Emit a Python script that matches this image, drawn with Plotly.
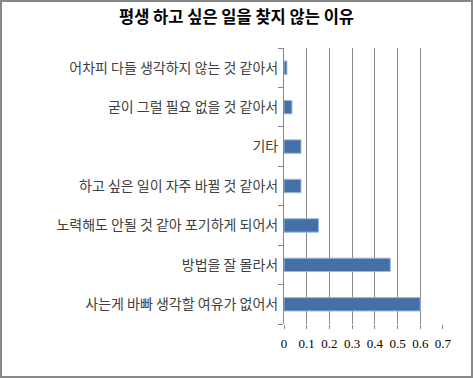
import plotly.graph_objects as go

title = "평생 하고 싶은 일을 찾지 않는 이유"
categories = [
    "사는게 바빠 생각할 여유가 없어서",
    "방법을 잘 몰라서",
    "노력해도 안될 것 같아 포기하게 되어서",
    "하고 싶은 일이 자주 바뀔 것 같아서",
    "기타",
    "굳이 그럴 필요 없을 것 같아서",
    "어차피 다들 생각하지 않는 것 같아서",
]
values = [0.60, 0.468, 0.152, 0.075, 0.075, 0.035, 0.013]
tick_values = [0, 0.1, 0.2, 0.3, 0.4, 0.5, 0.6, 0.7]
tick_labels = ["0", "0.1", "0.2", "0.3", "0.4", "0.5", "0.6", "0.7"]

W, H = 473, 378
ML, MR, MT, MB = 284, 30, 48, 54
pw = W - ML - MR
ph = H - MT - MB

fig = go.Figure(go.Bar(
    x=values, y=categories, orientation="h",
    marker=dict(color="#4470A8", line=dict(color="#9DB8D9", width=1)),
    hoverinfo="x+y",
))

fig.update_layout(
    width=W, height=H,
    margin=dict(l=ML, r=MR, t=MT, b=MB, pad=0),
    paper_bgcolor="white", plot_bgcolor="white",
    bargap=0.66,
    showlegend=False,
    title=dict(text="<b>" + title + "</b>", x=0.5, xanchor="center", y=1 - 17 / H, yanchor="middle",
               font=dict(family="Noto Sans CJK KR", size=16.5, color="black")),
    font=dict(family="Noto Sans CJK KR", size=14, color="#404040"),
    xaxis=dict(
        range=[0, 0.7001], tickvals=tick_values, ticktext=tick_labels,
        showgrid=True, gridcolor="#868686", gridwidth=1,
        zeroline=False, showline=False,
        ticks="outside", ticklen=4, tickcolor="#868686",
        tickfont=dict(family="Liberation Serif", size=13, color="black"),
        ticklabelstandoff=3,
        fixedrange=True,
    ),
    yaxis=dict(
        showgrid=False, zeroline=False,
        showline=True, linecolor="#868686", linewidth=1,
        ticks="outside", ticklen=5, tickcolor="#868686", tickson="boundaries",
        tickfont=dict(family="Noto Sans CJK KR", size=14, color="#404040"),
        ticklabelstandoff=2,
        fixedrange=True,
    ),
    shapes=[dict(
        type="rect", xref="paper", yref="paper",
        x0=(1 - ML) / pw, x1=(W - 1 - ML) / pw,
        y0=(1 - MB) / ph, y1=(H - MB - 1) / ph,
        line=dict(color="#888888", width=2), fillcolor="rgba(0,0,0,0)", layer="below",
    )],
)

fig.write_html("out.html", config={"displayModeBar": False},
               post_script="document.body.style.margin='0';document.body.style.padding='0';")
